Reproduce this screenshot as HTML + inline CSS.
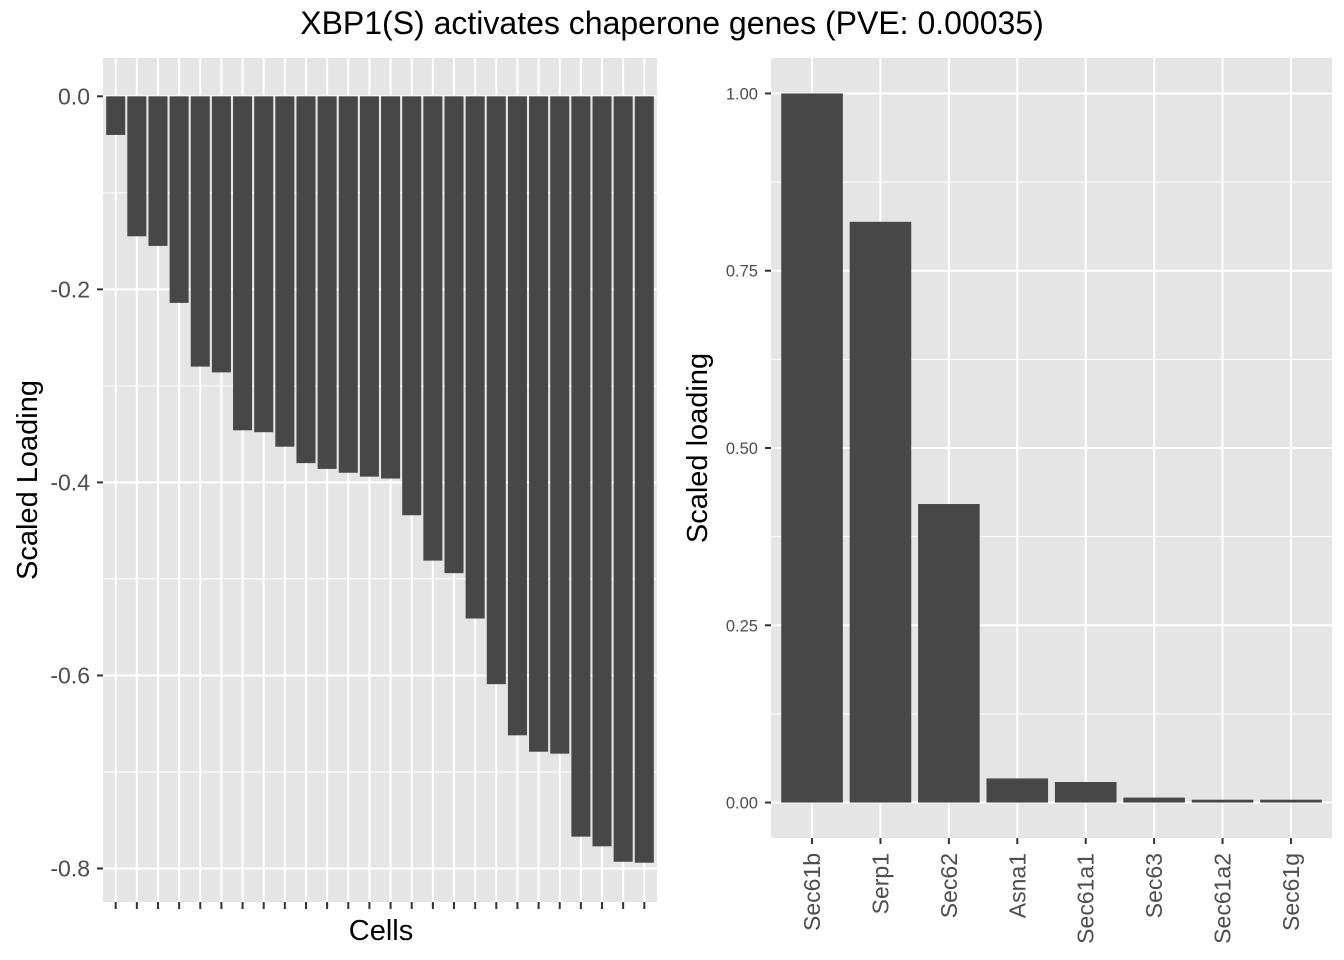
<!DOCTYPE html>
<html><head><meta charset="utf-8"><style>
html,body{margin:0;padding:0;background:#fff;}
svg{display:block;font-family:"Liberation Sans",Arial,sans-serif;}
</style></head><body>
<svg id="chart" width="1344" height="960" viewBox="0 0 1344 960">
<text x="672" y="34" text-anchor="middle" font-size="32" fill="#000">XBP1(S) activates chaperone genes (PVE: 0.00035)</text>
<g id="left"></g>
<g id="right"></g>
</svg>
<script>
const cellValues=[-0.040,-0.145,-0.155,-0.214,-0.280,-0.286,-0.346,-0.348,-0.363,-0.380,-0.386,-0.390,-0.394,-0.396,-0.434,-0.481,-0.494,-0.541,-0.609,-0.662,-0.679,-0.681,-0.767,-0.777,-0.793,-0.794];
const leftTicks=[0,-0.2,-0.4,-0.6,-0.8];
const leftTickLabels=["0.0","-0.2","-0.4","-0.6","-0.8"];
const leftMinor=[-0.1,-0.3,-0.5,-0.7];
const geneNames=["Sec61b","Serp1","Sec62","Asna1","Sec61a1","Sec63","Sec61a2","Sec61g"];
const geneValues=[1.0,0.819,0.421,0.034,0.029,0.007,0.004,0.004];
const rightTicks=[0,0.25,0.5,0.75,1.0];
const rightTickLabels=["0.00","0.25","0.50","0.75","1.00"];
const rightMinor=[0.125,0.375,0.625,0.875];

const NS="http://www.w3.org/2000/svg";
function mk(parent,tag,attrs,text){const e=document.createElementNS(NS,tag);for(const k in attrs)e.setAttribute(k,attrs[k]);if(text!==undefined)e.textContent=text;parent.appendChild(e);return e;}

(function(){
const g=document.getElementById('left');
const L=103,R=657,T=58,B=902;
const n=cellValues.length;
const ymin=-0.8347,ymax=0.0397;
const y=v=>T+(ymax-v)/(ymax-ymin)*(B-T);
const band=(R-L)/(n-1+1.2);
const x=i=>L+band*(0.6+i);
const bg=mk(g,'rect',{x:L,y:T,width:R-L,height:B-T,fill:'#e5e5e5'});


leftMinor.forEach(v=>{mk(g,'line',{x1:L,x2:R,y1:y(v),y2:y(v),stroke:'#fff','stroke-width':1});});
leftTicks.forEach(v=>{mk(g,'line',{x1:L,x2:R,y1:y(v),y2:y(v),stroke:'#fff','stroke-width':2});});
cellValues.forEach((v,i)=>{mk(g,'line',{x1:x(i),x2:x(i),y1:T,y2:B,stroke:'#fff','stroke-width':2});});
cellValues.forEach((v,i)=>{
 const r=mk(g,'rect',{x:x(i)-band*0.45,y:y(0),width:band*0.9,height:y(v)-y(0),fill:'#474747'});
 
 
 mk(g,'line',{x1:x(i),x2:x(i),y1:B,y2:B+7,stroke:'#333','stroke-width':2});
});
leftTicks.forEach((v,i)=>{
 mk(g,'line',{x1:L-6,x2:L,y1:y(v),y2:y(v),stroke:'#333','stroke-width':2});
 const t=mk(g,'text',{x:L-13,y:y(v)+8,'text-anchor':'end','font-size':23,fill:'#4d4d4d'},leftTickLabels[i]);
 
 
});
const xt=mk(g,'text',{x:(L+R)/2+1,y:940,'text-anchor':'middle','font-size':29,fill:'#000'},'Cells');


const yt=mk(g,'text',{x:0,y:0,transform:`translate(37,${(T+B)/2}) rotate(-90)`,'text-anchor':'middle','font-size':29,fill:'#000'},'Scaled Loading');


})();

(function(){
const g=document.getElementById('right');
const L=771,R=1332,T=58,B=838;
const n=geneValues.length;
const ymin=-0.05,ymax=1.05;
const y=v=>T+(ymax-v)/(ymax-ymin)*(B-T);
const band=(R-L)/(n-1+1.2);
const x=i=>L+band*(0.6+i);
const bg=mk(g,'rect',{x:L,y:T,width:R-L,height:B-T,fill:'#e5e5e5'});


rightMinor.forEach(v=>{mk(g,'line',{x1:L,x2:R,y1:y(v),y2:y(v),stroke:'#fff','stroke-width':1});});
rightTicks.forEach(v=>{mk(g,'line',{x1:L,x2:R,y1:y(v),y2:y(v),stroke:'#fff','stroke-width':2});});
geneValues.forEach((v,i)=>{mk(g,'line',{x1:x(i),x2:x(i),y1:T,y2:B,stroke:'#fff','stroke-width':2});});
geneValues.forEach((v,i)=>{
 const r=mk(g,'rect',{x:x(i)-band*0.45,y:y(v),width:band*0.9,height:y(0)-y(v),fill:'#474747'});
 
 
 mk(g,'line',{x1:x(i),x2:x(i),y1:B,y2:B+6,stroke:'#333','stroke-width':2});
 const t=mk(g,'text',{x:0,y:0,transform:`translate(${x(i)+8},${B+15}) rotate(-90)`,'text-anchor':'end','font-size':23,fill:'#4d4d4d'},geneNames[i]);
 
 
});
rightTicks.forEach((v,i)=>{
 mk(g,'line',{x1:L-6,x2:L,y1:y(v),y2:y(v),stroke:'#333','stroke-width':2});
 const t=mk(g,'text',{x:L-13,y:y(v)+6,'text-anchor':'end','font-size':16.5,fill:'#4d4d4d'},rightTickLabels[i]);
 
 
});
const yt=mk(g,'text',{x:0,y:0,transform:`translate(707,${(T+B)/2}) rotate(-90)`,'text-anchor':'middle','font-size':29,fill:'#000'},'Scaled loading');


})();
</script>
</body></html>
